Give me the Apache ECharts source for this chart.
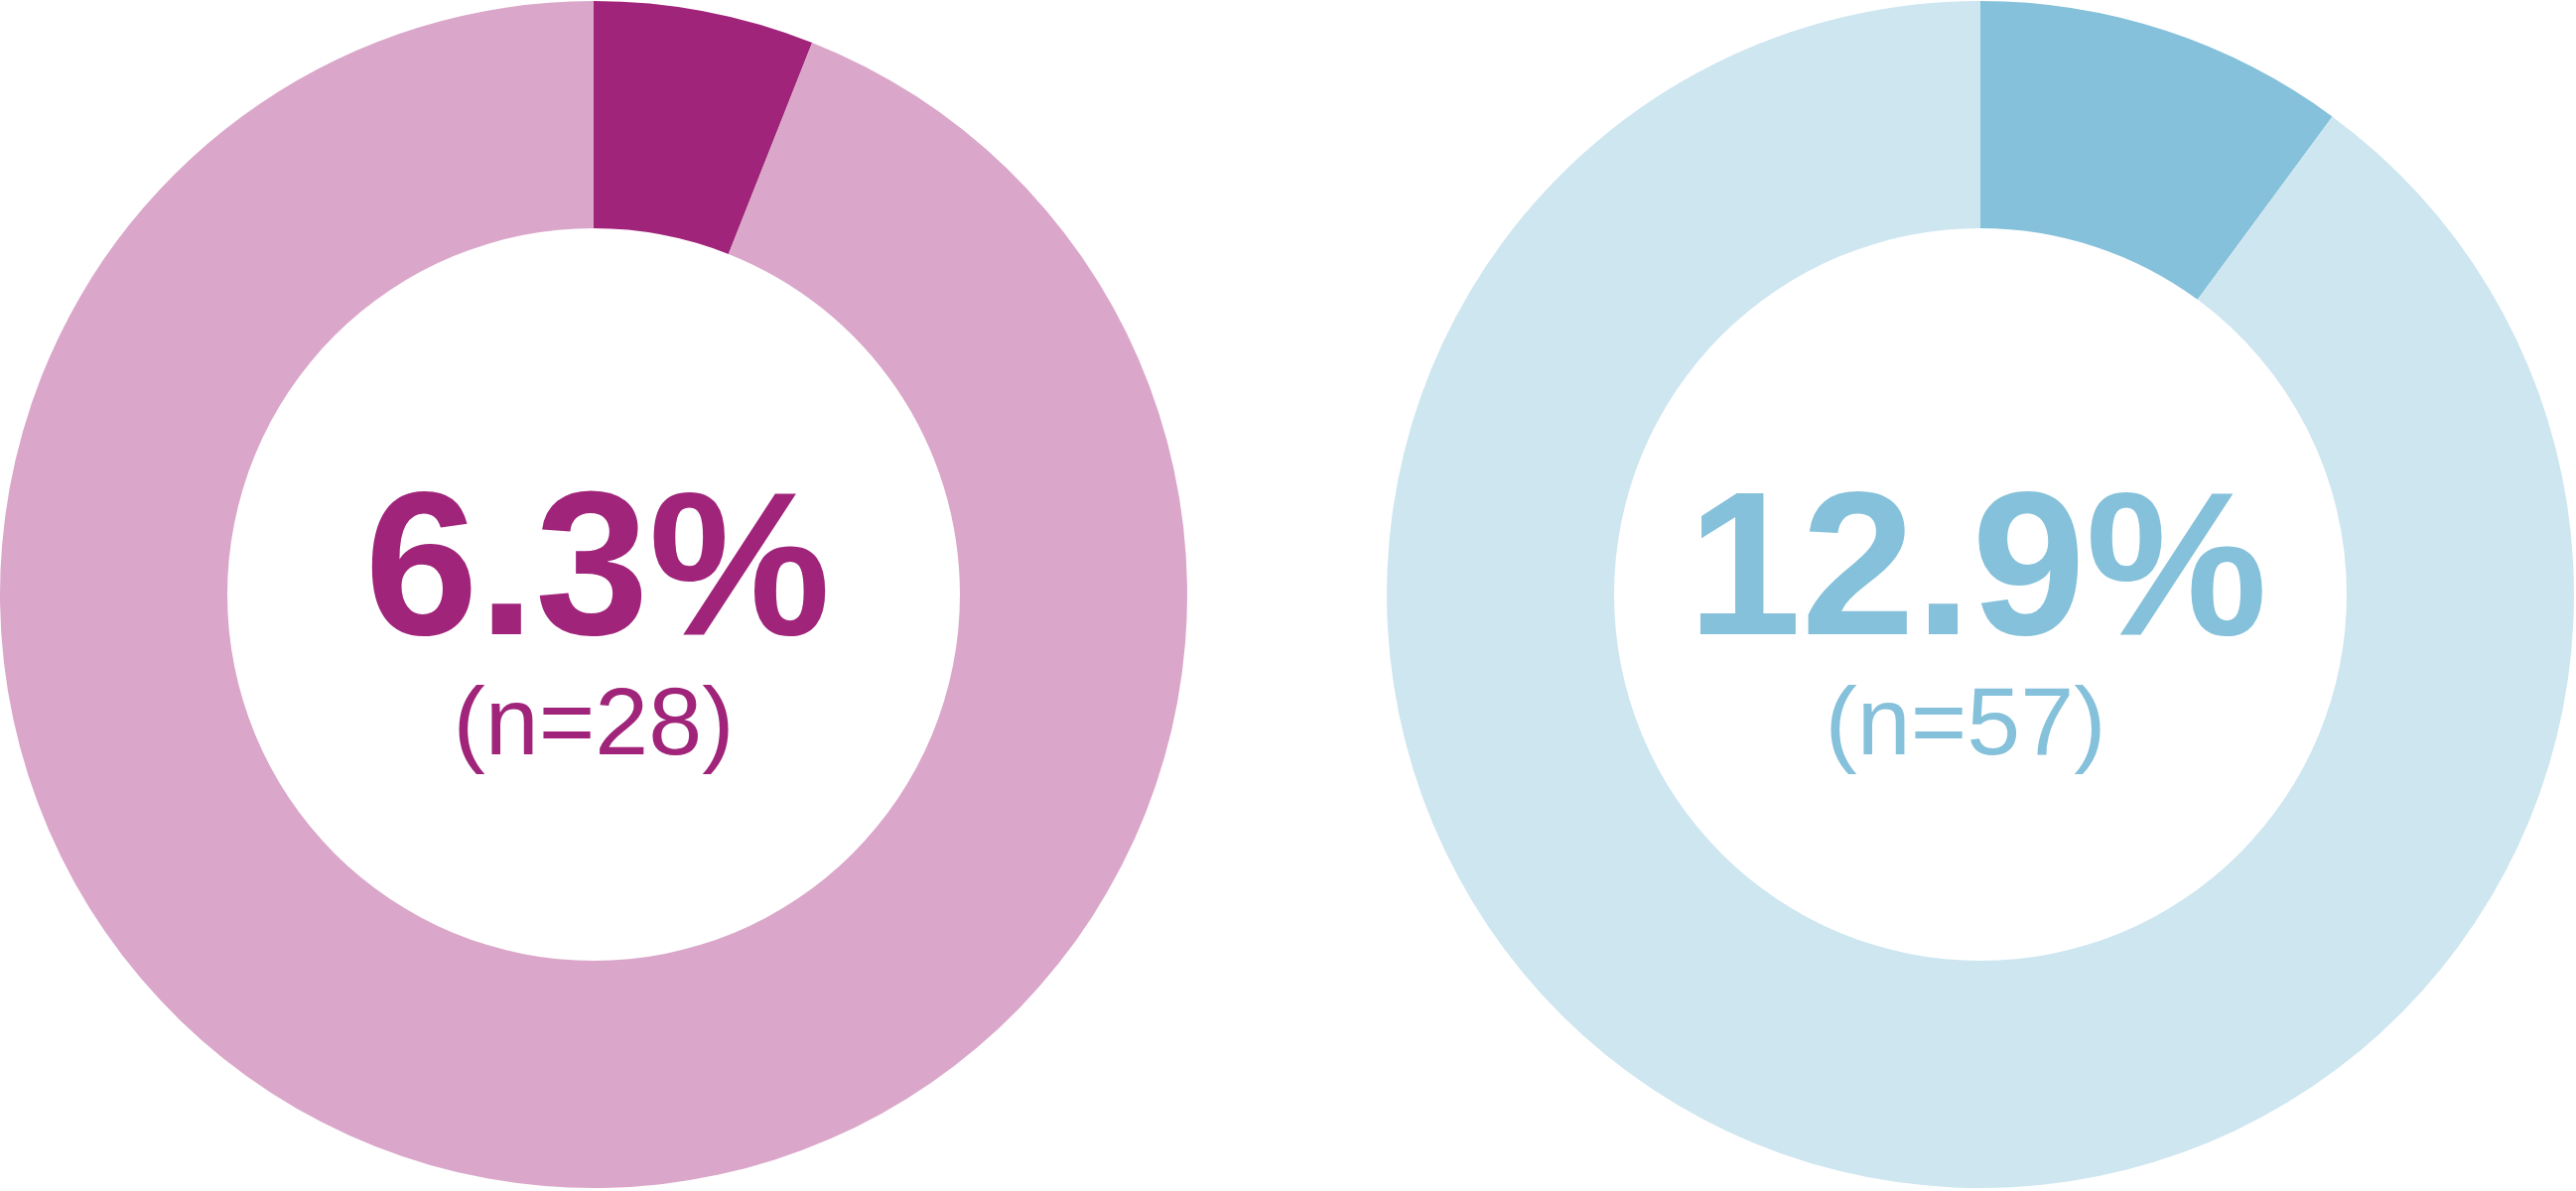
<!DOCTYPE html>
<html>
<head>
<meta charset="utf-8">
<script src="https://cdn.jsdelivr.net/npm/echarts@6/dist/echarts.min.js"></script>
<style>
html,body{margin:0;padding:0;background:#fff;}
#chart{width:2595px;height:1200px;}
</style>
</head>
<body>
<div id="chart"></div>
<script>
// Data
const groups = ['Group A', 'Group B'];
const highlightShare = [6.0, 10.1];        // visible share of the dark slice (%)
const restShare = [94.0, 89.9];            // remainder (%)
const pctLabels = ['6.3%', '12.9%'];
const nLabels = ['(n=28)', '(n=57)'];

const darkColors = ['#A0247A', '#85C1DA'];
const lightColors = ['#DAA7CA', '#CEE6F0'];
const centers = [[598, 599], [1995, 599]];
const bigX = [602, 1992];
const smallX = [598, 1980];

const chart = echarts.init(document.getElementById('chart'), null, {renderer: 'canvas'});

const series = groups.map((g, i) => ({
  type: 'pie',
  name: g,
  center: centers[i],
  radius: [369, 598],
  startAngle: 90,
  clockwise: true,
  silent: true,
  animation: false,
  label: {show: false},
  labelLine: {show: false},
  emphasis: {disabled: true},
  itemStyle: {borderWidth: 0},
  data: [
    {name: 'yes', value: highlightShare[i], itemStyle: {color: darkColors[i]}},
    {name: 'no', value: restShare[i], itemStyle: {color: lightColors[i]}}
  ]
}));

const graphics = [];
groups.forEach((g, i) => {
  graphics.push({
    type: 'text', x: bigX[i], y: 582, silent: true,
    style: {text: pctLabels[i], fill: darkColors[i], fontFamily: 'Liberation Sans', fontSize: 206, fontWeight: 'bold', align: 'center', verticalAlign: 'middle'}
  });
  graphics.push({
    type: 'text', x: smallX[i], y: 733, silent: true,
    style: {text: nLabels[i], fill: darkColors[i], fontFamily: 'Liberation Sans', fontSize: 97, fontWeight: 'normal', align: 'center', verticalAlign: 'middle'}
  });
});

chart.setOption({
  animation: false,
  backgroundColor: '#ffffff',
  tooltip: {show: false},
  legend: {show: false},
  series: series,
  graphic: graphics
});
</script>
</body>
</html>
